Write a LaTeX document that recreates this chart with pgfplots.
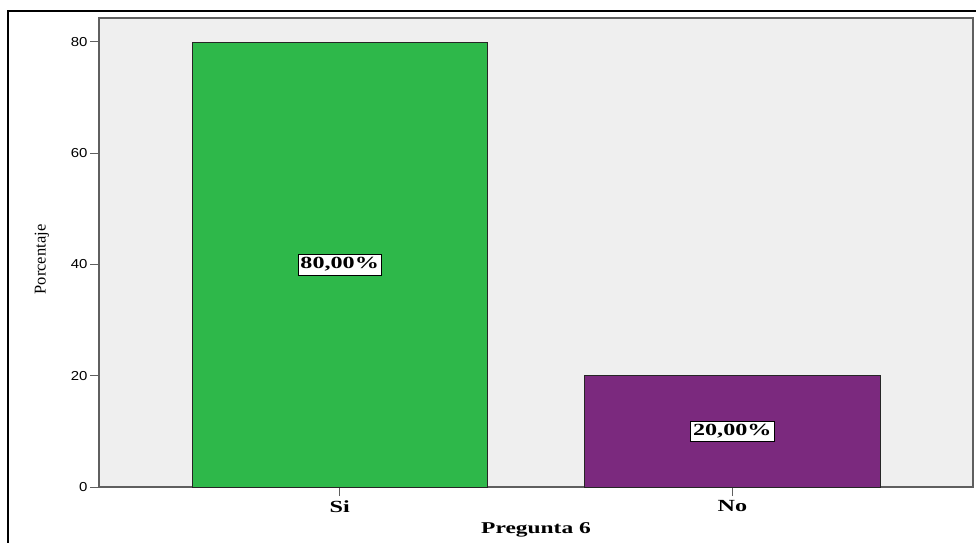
\documentclass[border=0pt]{standalone}
\usepackage{fontspec}
\setmainfont{Liberation Serif}
\newfontfamily\tickfont{Liberation Sans}[FakeStretch=1.15]
\newfontfamily\boldwide{Liberation Serif}[FakeStretch=1.42]
\usepackage{pgfplots}
\pgfplotsset{compat=1.18}
\definecolor{bggray}{RGB}{239,239,239}
\definecolor{sigreen}{RGB}{46,184,74}
\definecolor{nopurple}{RGB}{123,41,126}
\definecolor{axgray}{RGB}{95,95,95}
\begin{document}
\begin{tikzpicture}
\useasboundingbox (-99pt,-55pt) rectangle (877pt,487pt);
\draw[line width=2.5pt] (-91pt,-60pt) -- (-91pt,476pt) -- (880pt,476pt);
\begin{axis}[
  at={(0pt,0pt)}, anchor=south west,
  scale only axis, width=874pt, height=469pt,
  xmin=-0.613, xmax=1.613, ymin=0, ymax=84.3,
  axis background/.style={fill=bggray},
  axis line style={draw=axgray, line width=1.6pt},
  ytick={0,20,40,60,80},
  xtick={0,1}, xticklabels={Si,No},
  tick align=outside, xtick pos=bottom, ytick pos=left,
  tick style={draw=axgray, line width=1pt},
  major tick length=9pt,
  /pgf/number format/assume math mode=true,
  yticklabel style={font=\tickfont\fontsize{13}{13}\selectfont, xshift=1pt},
  xticklabel style={font=\boldwide\bfseries\fontsize{17}{17}\selectfont, yshift=-1pt},
  xlabel={Pregunta 6},
  xlabel style={font=\boldwide\bfseries\fontsize{16.5}{16.5}\selectfont, at={(axis description cs:0.5,0)}, anchor=center, yshift=-43pt},
  ylabel={Porcentaje},
  ylabel style={font=\fontsize{16.5}{16.5}\selectfont, at={(axis description cs:0,0.5)}, anchor=center, rotate=0, yshift=57pt, xshift=-7pt},
]
\addplot[ybar, bar shift=0pt, bar width=0.752, fill=sigreen, draw=black!85, line width=0.8pt] coordinates {(0,80)};
\addplot[ybar, bar shift=0pt, bar width=0.752, fill=nopurple, draw=black!85, line width=0.8pt] coordinates {(1,20)};
\node[fill=white, draw=black, line width=0.8pt, inner xsep=2.5pt, inner ysep=3.5pt, font=\boldwide\bfseries\fontsize{17}{17}\selectfont] at (axis cs:0,40) {80,00\%};
\node[fill=white, draw=black, line width=0.8pt, inner xsep=2.5pt, inner ysep=3.5pt, font=\boldwide\bfseries\fontsize{17}{17}\selectfont] at (axis cs:1,10) {20,00\%};
\end{axis}
\end{tikzpicture}
\end{document}
